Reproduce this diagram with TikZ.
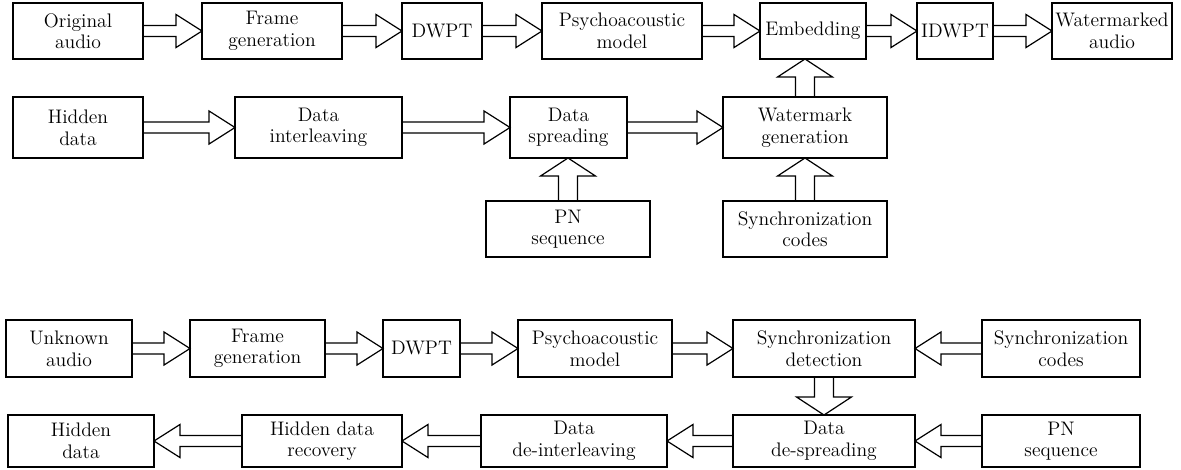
\documentclass[tikz,border=0pt]{standalone}
\usetikzlibrary{calc}
\def\sh{4.1pt}
\def\hh{12.4pt}
\def\hl{19.5pt}
\def\sv{7.1pt}
\def\hv{20.6pt}
\def\hlv{13.5pt}
\tikzset{
  box/.style={draw, line width=0.9pt, inner sep=0pt, outer sep=0pt, align=center,
    font=\fontsize{14.7}{16.2}\selectfont},
  blk/.style={draw, line width=0.9pt, line join=miter}
}
\newcommand\bx[6]{\node[box, minimum width={(#4-#2)*0.75pt}, minimum height={(#5-#3)*0.75pt}] (#1) at ({(#2+#4)/2},{(#3+#5)/2}) {#6};}
\newcommand\rarr[2]{\draw[blk] let \p1=(#1.east), \p2=(#2.west) in
  (\x1,\y1+\sh) -- (\x2-\hl,\y1+\sh) -- (\x2-\hl,\y1+\hh) -- (\x2,\y1) -- (\x2-\hl,\y1-\hh) -- (\x2-\hl,\y1-\sh) -- (\x1,\y1-\sh);}
\newcommand\larr[2]{\draw[blk] let \p1=(#1.west), \p2=(#2.east) in
  (\x1,\y1+\sh) -- (\x2+\hl,\y1+\sh) -- (\x2+\hl,\y1+\hh) -- (\x2,\y1) -- (\x2+\hl,\y1-\hh) -- (\x2+\hl,\y1-\sh) -- (\x1,\y1-\sh);}
\newcommand\uarr[2]{\draw[blk] let \p1=(#1.north), \p2=(#2.south) in
  (\x1-\sv,\y1) -- (\x1-\sv,\y2-\hlv) -- (\x1-\hv,\y2-\hlv) -- (\x1,\y2) -- (\x1+\hv,\y2-\hlv) -- (\x1+\sv,\y2-\hlv) -- (\x1+\sv,\y1);}
\newcommand\darr[2]{\draw[blk] let \p1=(#1.south), \p2=(#2.north) in
  (\x1-\sv,\y1) -- (\x1-\sv,\y2+\hlv) -- (\x1-\hv,\y2+\hlv) -- (\x1,\y2) -- (\x1+\hv,\y2+\hlv) -- (\x1+\sv,\y2+\hlv) -- (\x1+\sv,\y1);}
\begin{document}
\begin{tikzpicture}[x=0.75pt,y=-0.75pt]
\fill[white] (0,0) rectangle (1181,469);
\useasboundingbox (0,0) rectangle (1181,469);
% embedding part
\bx{oa}{13}{3}{143}{59}{Original\\audio}
\bx{fg}{202}{3}{342}{59}{Frame\\generation}
\bx{dw}{402}{3}{482}{59}{DWPT}
\bx{pm}{542}{3}{702}{59}{Psychoacoustic\\model}
\bx{em}{760}{3}{866}{59}{Embedding}
\bx{idw}{917}{3}{993}{59}{IDWPT}
\bx{wa}{1052}{3}{1172}{59}{Watermarked\\audio}
\bx{hd}{13}{97}{143}{158}{Hidden\\data}
\bx{di}{235}{97}{402}{158}{Data\\interleaving}
\bx{ds}{510}{97}{627}{158}{Data\\spreading}
\bx{wg}{723}{97}{887}{158}{Watermark\\generation}
\bx{pn}{486}{201}{650}{257}{PN\\sequence}
\bx{sc}{723}{201}{887}{257}{Synchronization\\codes}
\rarr{oa}{fg}
\rarr{fg}{dw}
\rarr{dw}{pm}
\rarr{pm}{em}
\rarr{em}{idw}
\rarr{idw}{wa}
\rarr{hd}{di}
\rarr{di}{ds}
\rarr{ds}{wg}
\uarr{wg}{em}
\uarr{pn}{ds}
\uarr{sc}{wg}
% extraction part
\bx{ua}{6}{320}{132}{377}{Unknown\\audio}
\bx{fgb}{190}{320}{325}{377}{Frame\\generation}
\bx{dwb}{383}{320}{460}{377}{DWPT}
\bx{pmb}{518}{320}{672}{377}{Psychoacoustic\\model}
\bx{sd}{733}{320}{915}{377}{Synchronization\\detection}
\bx{scb}{982}{320}{1140}{377}{Synchronization\\codes}
\bx{hdb}{8}{415}{154}{467}{Hidden\\data}
\bx{hr}{242}{415}{402}{467}{Hidden data\\recovery}
\bx{dd}{481}{415}{667}{467}{Data\\de-interleaving}
\bx{dsp}{733}{415}{915}{467}{Data\\de-spreading}
\bx{pnb}{982}{415}{1140}{467}{PN\\sequence}
\rarr{ua}{fgb}
\rarr{fgb}{dwb}
\rarr{dwb}{pmb}
\rarr{pmb}{sd}
\larr{scb}{sd}
\darr{sd}{dsp}
\larr{pnb}{dsp}
\larr{dsp}{dd}
\larr{dd}{hr}
\larr{hr}{hdb}
\end{tikzpicture}
\end{document}
